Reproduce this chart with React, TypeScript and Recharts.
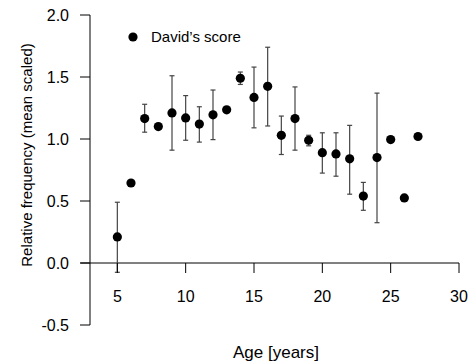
import { ComposedChart, Scatter, ErrorBar, XAxis, YAxis, ReferenceLine } from 'recharts';

const ages = [5, 6, 7, 8, 9, 10, 11, 12, 13, 14, 15, 16, 17, 18, 19, 20, 21, 22, 23, 24, 25, 26, 27];
const scores = [0.21, 0.645, 1.165, 1.1, 1.21, 1.17, 1.12, 1.195, 1.235, 1.49, 1.335, 1.425, 1.03, 1.165, 0.99, 0.89, 0.88, 0.84, 0.54, 0.85, 0.995, 0.525, 1.02];
const lower = [-0.075, null, 1.055, null, 0.91, 0.99, 0.975, 0.995, null, 1.44, 1.09, 1.105, 0.875, 0.91, 0.945, 0.725, 0.7, 0.555, 0.425, 0.325, null, null, null];
const upper = [0.49, null, 1.28, null, 1.51, 1.35, 1.26, 1.395, null, 1.54, 1.58, 1.74, 1.185, 1.42, 1.03, 1.05, 1.05, 1.11, 0.65, 1.37, null, null, null];

const xTicks = [5, 10, 15, 20, 25, 30];
const yTicks = [-0.5, 0, 0.5, 1, 1.5, 2];
const xDomain = [3, 30];
const yDomain = [-0.5, 2];
const axisStart = 2.3;

const W = 475;
const H = 363;
const margin = { top: 15, right: 16, bottom: 8, left: 0 };
const xAxisHeight = 30;
const plotHeight = H - margin.top - margin.bottom - xAxisHeight;
// distance from plot bottom up to the y = 0 line
const zeroOffset = (plotHeight * (0 - yDomain[0])) / (yDomain[1] - yDomain[0]);

const data = ages.map((age, i) => ({
  age,
  score: scores[i],
  err: lower[i] == null ? null : [scores[i] - (lower[i] as number), (upper[i] as number) - scores[i]],
}));

const font = '"Liberation Sans", Arial, Helvetica, sans-serif';

function XTick(props: any) {
  const { x, y, payload } = props;
  const y0 = y - zeroOffset;
  return (
    <g>
      <line x1={x} x2={x} y1={y0} y2={y0 + 10} stroke="#000" strokeWidth={1} />
      <text x={x} y={y0 + 33} textAnchor="middle" dominantBaseline="central" fontSize={16} fill="#000" fontFamily={font}>
        {payload.value}
      </text>
    </g>
  );
}

const Dot = (props: any) => <circle cx={props.cx} cy={props.cy} r={4.6} fill="#000" />;

export default function App() {
  return (
    <div style={{ position: 'absolute', left: 0, top: 0, width: W, height: H, background: '#fff', fontFamily: font }}>
      <ComposedChart width={W} height={H} margin={margin} data={data}>
        <XAxis
          dataKey="age"
          type="number"
          domain={xDomain}
          ticks={xTicks}
          axisLine={false}
          tickLine={false}
          tickSize={0}
          tickMargin={0}
          height={xAxisHeight}
          tick={<XTick />}
          label={{
            content: () => (
              <text x={276} y={352} textAnchor="middle" dominantBaseline="central" fontSize={17} fill="#000" fontFamily={font}>
                Age [years]
              </text>
            ),
          }}
        />
        <YAxis
          type="number"
          domain={yDomain}
          ticks={yTicks}
          width={90}
          tickSize={10}
          tickMargin={11}
          tickFormatter={(v: number) => v.toFixed(1)}
          tick={{ fill: '#000', fontSize: 16, fontFamily: font }}
          axisLine={{ stroke: '#000' }}
          tickLine={{ stroke: '#000' }}
          label={{
            content: () => (
              <text x={26} y={155} transform="rotate(-90 26 155)" textAnchor="middle" dominantBaseline="central" fontSize={15} fill="#000" fontFamily={font}>
                Relative frequency (mean scaled)
              </text>
            ),
          }}
        />
        <ReferenceLine
          segment={[{ x: axisStart, y: 0 }, { x: xDomain[1], y: 0 }]}
          stroke="#000"
          strokeWidth={1}
          ifOverflow="visible"
        />
        <Scatter dataKey="score" fill="#000" shape={<Dot />} isAnimationActive={false}>
          <ErrorBar dataKey="err" direction="y" width={2.5} stroke="#444" strokeWidth={1.2} isAnimationActive={false} />
        </Scatter>
      </ComposedChart>
      <div style={{ position: 'absolute', left: 128, top: 28, display: 'flex', alignItems: 'center', fontSize: 15, color: '#000' }}>
        <svg width={10} height={10} style={{ marginRight: 13 }}>
          <circle cx={5} cy={5} r={4.6} fill="#000" />
        </svg>
        <span>David’s score</span>
      </div>
    </div>
  );
}
